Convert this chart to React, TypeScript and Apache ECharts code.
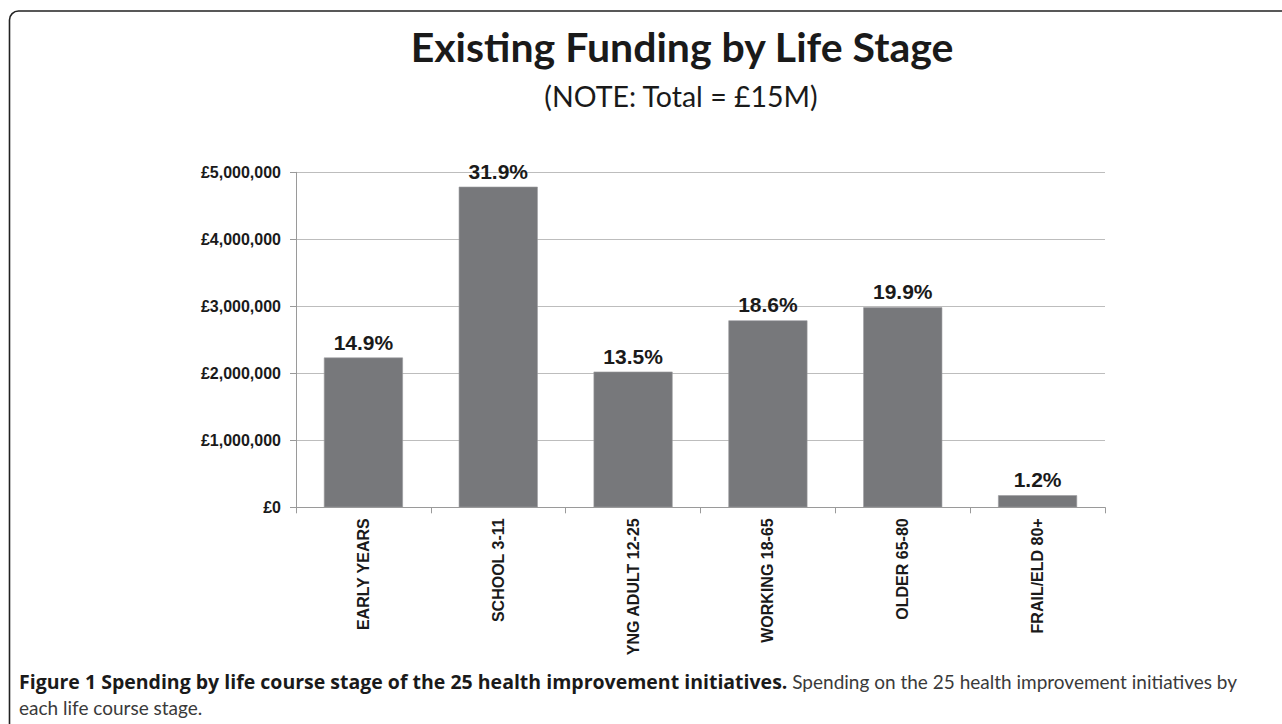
import React, { useEffect, useRef } from "react";
import * as echarts from "echarts";

const categories = ["EARLY YEARS", "SCHOOL 3-11", "YNG ADULT 12-25", "WORKING 18-65", "OLDER 65-80", "FRAIL/ELD 80+"];
const funding = [2235000, 4785000, 2025000, 2790000, 2985000, 180000];
const shareLabels = ["14.9%", "31.9%", "13.5%", "18.6%", "19.9%", "1.2%"];
const yTicks = [0, 1000000, 2000000, 3000000, 4000000, 5000000];

const titleText = "Existing Funding by Life Stage";
const subtitleText = "(NOTE: Total = £15M)";
const captionBold = "Figure 1 Spending by life course stage of the 25 health improvement initiatives.";
const captionRest = " Spending on the 25 health improvement initiatives by";
const captionLine2 = "each life course stage.";

export default function App() {
  const ref = useRef<HTMLDivElement>(null);
  useEffect(() => {
    if (!ref.current) return;
    const chart = echarts.init(ref.current, null, { renderer: "svg" });
    const fmt = (v: number) => "£" + v.toLocaleString("en-GB");
    const axisFont = "Liberation Sans, Arial, sans-serif";
    chart.setOption({
      animation: false,
      backgroundColor: "#ffffff",
      grid: { left: 296, right: 177, top: 172.3, bottom: 216.7, containLabel: false },
      xAxis: {
        type: "category",
        data: categories,
        boundaryGap: true,
        axisLine: { lineStyle: { color: "#9a9a9a", width: 1 } },
        axisTick: { show: true, inside: false, length: 6, alignWithLabel: false, lineStyle: { color: "#9a9a9a" } },
        axisLabel: {
          rotate: 90,
          interval: 0,
          margin: 11,
          color: "#1a1a1a",
          fontFamily: axisFont,
          fontWeight: "bold",
          fontSize: 16,
        },
      },
      yAxis: {
        type: "value",
        min: yTicks[0],
        max: yTicks[yTicks.length - 1],
        interval: yTicks[1] - yTicks[0],
        axisLine: { show: true, lineStyle: { color: "#9a9a9a", width: 1 } },
        axisTick: { show: true, inside: false, length: 6, lineStyle: { color: "#9a9a9a" } },
        splitLine: { show: true, lineStyle: { color: "#bdbdbd", width: 1 } },
        axisLabel: {
          formatter: fmt,
          margin: 15,
          color: "#1a1a1a",
          fontFamily: axisFont,
          fontWeight: "bold",
          fontSize: 16,
        },
      },
      series: [
        {
          type: "bar",
          data: funding,
          barWidth: 79,
          itemStyle: { color: "#77787b", borderColor: "#9a9b9e", borderWidth: 0.6 },
          label: {
            show: true,
            position: "top",
            distance: 5,
            formatter: (p: any) => shareLabels[p.dataIndex],
            color: "#1a1a1a",
            fontFamily: axisFont,
            fontWeight: "bold",
            fontSize: 21,
          },
        },
      ],
      graphic: [
        {
          type: "rect",
          shape: { x: 9.5, y: 11, width: 1290, height: 730, r: 9 },
          style: { fill: "none", stroke: "#222222", lineWidth: 1.6 },
          silent: true,
        },
        {
          type: "text",
          x: 682,
          y: 46,
          style: {
            text: titleText,
            fill: "#1a1a1a",
            font: "bold 41px Lato, 'Open Sans', sans-serif",
            textAlign: "center",
            textVerticalAlign: "middle",
          },
        },
        {
          type: "text",
          x: 681,
          y: 96,
          style: {
            text: subtitleText,
            fill: "#1a1a1a",
            font: "28.5px Lato, 'Open Sans', sans-serif",
            textAlign: "center",
            textVerticalAlign: "middle",
          },
        },
        {
          type: "text",
          x: 19,
          y: 681,
          style: {
            text: "{b|" + captionBold + "}{r|" + captionRest + "}",
            textVerticalAlign: "middle",
            rich: {
              b: { font: "bold 19.5px 'Open Sans', Lato, sans-serif", fill: "#1a1a1a" },
              r: { font: "19px Lato, 'Open Sans', sans-serif", fill: "#3a3a3a" },
            } as any,
          },
        },
        {
          type: "text",
          x: 19,
          y: 707,
          style: {
            text: captionLine2,
            fill: "#3a3a3a",
            font: "19px Lato, 'Open Sans', sans-serif",
            textVerticalAlign: "middle",
          },
        },
      ],
    });
    return () => chart.dispose();
  }, []);
  return (
    <div
      ref={ref}
      style={{ position: "absolute", left: 0, top: 0, width: 1282, height: 724 }}
    />
  );
}
